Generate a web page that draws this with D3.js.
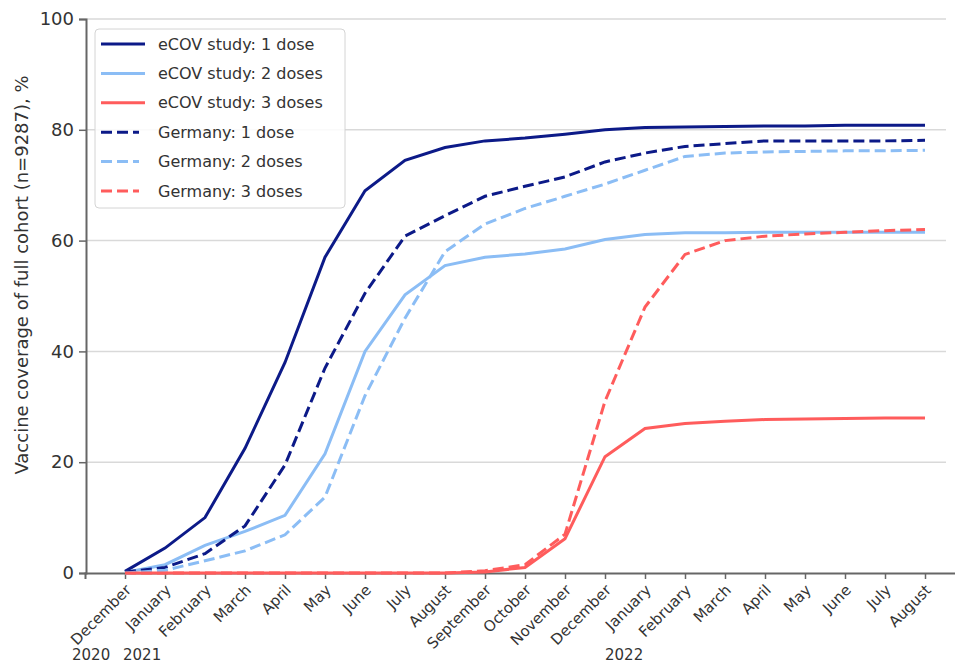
<!DOCTYPE html>
<html>
<head>
<meta charset="utf-8">
<script src="https://cdn.jsdelivr.net/npm/d3@7"></script>
<style>
  body { margin: 0; background: #fff; }
  text { font-family: "DejaVu Sans", Verdana, sans-serif; fill: #333; }
</style>
</head>
<body>
<div id="chart"></div>
<script>
// months Dec 2020 .. Aug 2022
const months = ["December", "January", "February", "March", "April", "May", "June", "July",
  "August", "September", "October", "November", "December", "January", "February", "March",
  "April", "May", "June", "July", "August"];
const years = [{label: "2020", i: 0, dx: -53}, {label: "2021", i: 1, dx: -42}, {label: "2022", i: 13, dx: -40}];
const yTicks = [0, 20, 40, 60, 80, 100];

const ecov1 = [0.3, 4.5, 10, 22.5, 38, 57, 69, 74.5, 76.8, 78, 78.5, 79.2, 80, 80.4, 80.5, 80.6, 80.7, 80.7, 80.8, 80.8, 80.8];
const ecov2 = [0.1, 1.5, 5, 7.5, 10.4, 21.5, 40, 50.2, 55.5, 57, 57.6, 58.5, 60.2, 61.1, 61.4, 61.4, 61.5, 61.5, 61.5, 61.5, 61.5];
const ecov3 = [0, 0, 0, 0, 0, 0, 0, 0, 0, 0.2, 1.0, 6.2, 21, 26.1, 27, 27.4, 27.7, 27.8, 27.9, 28, 28];
const ger1 = [0.2, 1, 3.5, 8.5, 19.5, 37, 50.5, 60.8, 64.5, 68, 69.8, 71.5, 74.2, 75.8, 77, 77.5, 78, 78, 78, 78, 78.1];
const ger2 = [0, 0.5, 2.2, 4, 6.9, 13.7, 32, 46, 58, 63, 65.8, 68, 70.2, 72.7, 75.2, 75.8, 76, 76.1, 76.2, 76.2, 76.3];
const ger3 = [0, 0, 0, 0, 0, 0, 0, 0, 0, 0.4, 1.5, 7, 31, 48, 57.5, 60, 60.8, 61.2, 61.5, 61.8, 62];

const navy = "#0c1a88", light = "#8bbdf5", red = "#ff5c5c";
const series = [
  {name: "eCOV study: 1 dose", values: ecov1, color: navy, dash: null},
  {name: "eCOV study: 2 doses", values: ecov2, color: light, dash: null},
  {name: "eCOV study: 3 doses", values: ecov3, color: red, dash: null},
  {name: "Germany: 1 dose", values: ger1, color: navy, dash: "11,5"},
  {name: "Germany: 2 doses", values: ger2, color: light, dash: "11,5"},
  {name: "Germany: 3 doses", values: ger3, color: red, dash: "11,5"}
];

const width = 955, height = 666;
const svg = d3.select("#chart").append("svg")
  .attr("width", width).attr("height", height);

const x = d3.scaleLinear().domain([-1, 21]).range([85, 965]);
const y = d3.scaleLinear().domain([0, 100]).range([573, 19]);

// gridlines
svg.append("g").selectAll("line")
  .data(yTicks.filter(d => d > 0))
  .join("line")
  .attr("x1", 86).attr("x2", 946)
  .attr("y1", d => y(d)).attr("y2", d => y(d))
  .attr("stroke", "#d9d9d9").attr("stroke-width", 1.5);

// y axis
const yAxis = svg.append("g")
  .attr("transform", "translate(86,0)")
  .call(d3.axisLeft(y).tickValues(yTicks).tickSize(7).tickPadding(5));
yAxis.select(".domain").attr("stroke", "#666").attr("stroke-width", 2);
yAxis.selectAll(".tick line").attr("stroke", "#666").attr("stroke-width", 1.5);
yAxis.selectAll(".tick text").style("font-size", "18px").attr("fill", "#444")
  .style("font-family", "'DejaVu Sans', sans-serif");

// x axis
const xAxis = svg.append("g")
  .attr("transform", "translate(0,573)")
  .call(d3.axisBottom(x).tickValues(d3.range(months.length)).tickSize(6).tickFormat(""));
xAxis.select(".domain").attr("stroke", "#666").attr("stroke-width", 2);
xAxis.selectAll(".tick line").attr("stroke", "#666").attr("stroke-width", 1.5);

svg.append("g").selectAll("text")
  .data(months)
  .join("text")
  .attr("transform", (d, i) => `translate(${x(i) + 7},591) rotate(-45)`)
  .attr("text-anchor", "end")
  .style("font-size", "15px")
  .text(d => d);

svg.append("g").selectAll("text")
  .data(years)
  .join("text")
  .attr("x", d => x(d.i) + d.dx)
  .attr("y", 660)
  .style("font-size", "15px")
  .text(d => d.label);

// y label
svg.append("text")
  .attr("transform", "translate(28,275) rotate(-90)")
  .attr("text-anchor", "middle")
  .style("font-size", "18px")
  .text("Vaccine coverage of full cohort (n=9287), %");

// lines
const line = d3.line()
  .x((d, i) => x(i))
  .y(d => y(d));

svg.append("g").selectAll("path")
  .data(series)
  .join("path")
  .attr("d", d => line(d.values))
  .attr("fill", "none")
  .attr("stroke", d => d.color)
  .attr("stroke-width", 3)
  .attr("stroke-dasharray", d => d.dash);

// legend
const legend = svg.append("g").attr("transform", "translate(95,29)");
legend.append("rect")
  .attr("width", 250).attr("height", 179).attr("rx", 4)
  .attr("fill", "#fff").attr("fill-opacity", 0.85)
  .attr("stroke", "#d4d4d4");
const rows = legend.selectAll("g.row")
  .data(series)
  .join("g")
  .attr("class", "row")
  .attr("transform", (d, i) => `translate(0,${15 + i * 29.4})`);
rows.append("line")
  .attr("x1", 6).attr("x2", d => d.dash ? 44 : 50)
  .attr("stroke", d => d.color)
  .attr("stroke-width", 3)
  .attr("stroke-dasharray", d => d.dash);
rows.append("text")
  .attr("x", 63).attr("dy", "0.35em")
  .style("font-size", "16px")
  .text(d => d.name);
</script>
</body>
</html>
